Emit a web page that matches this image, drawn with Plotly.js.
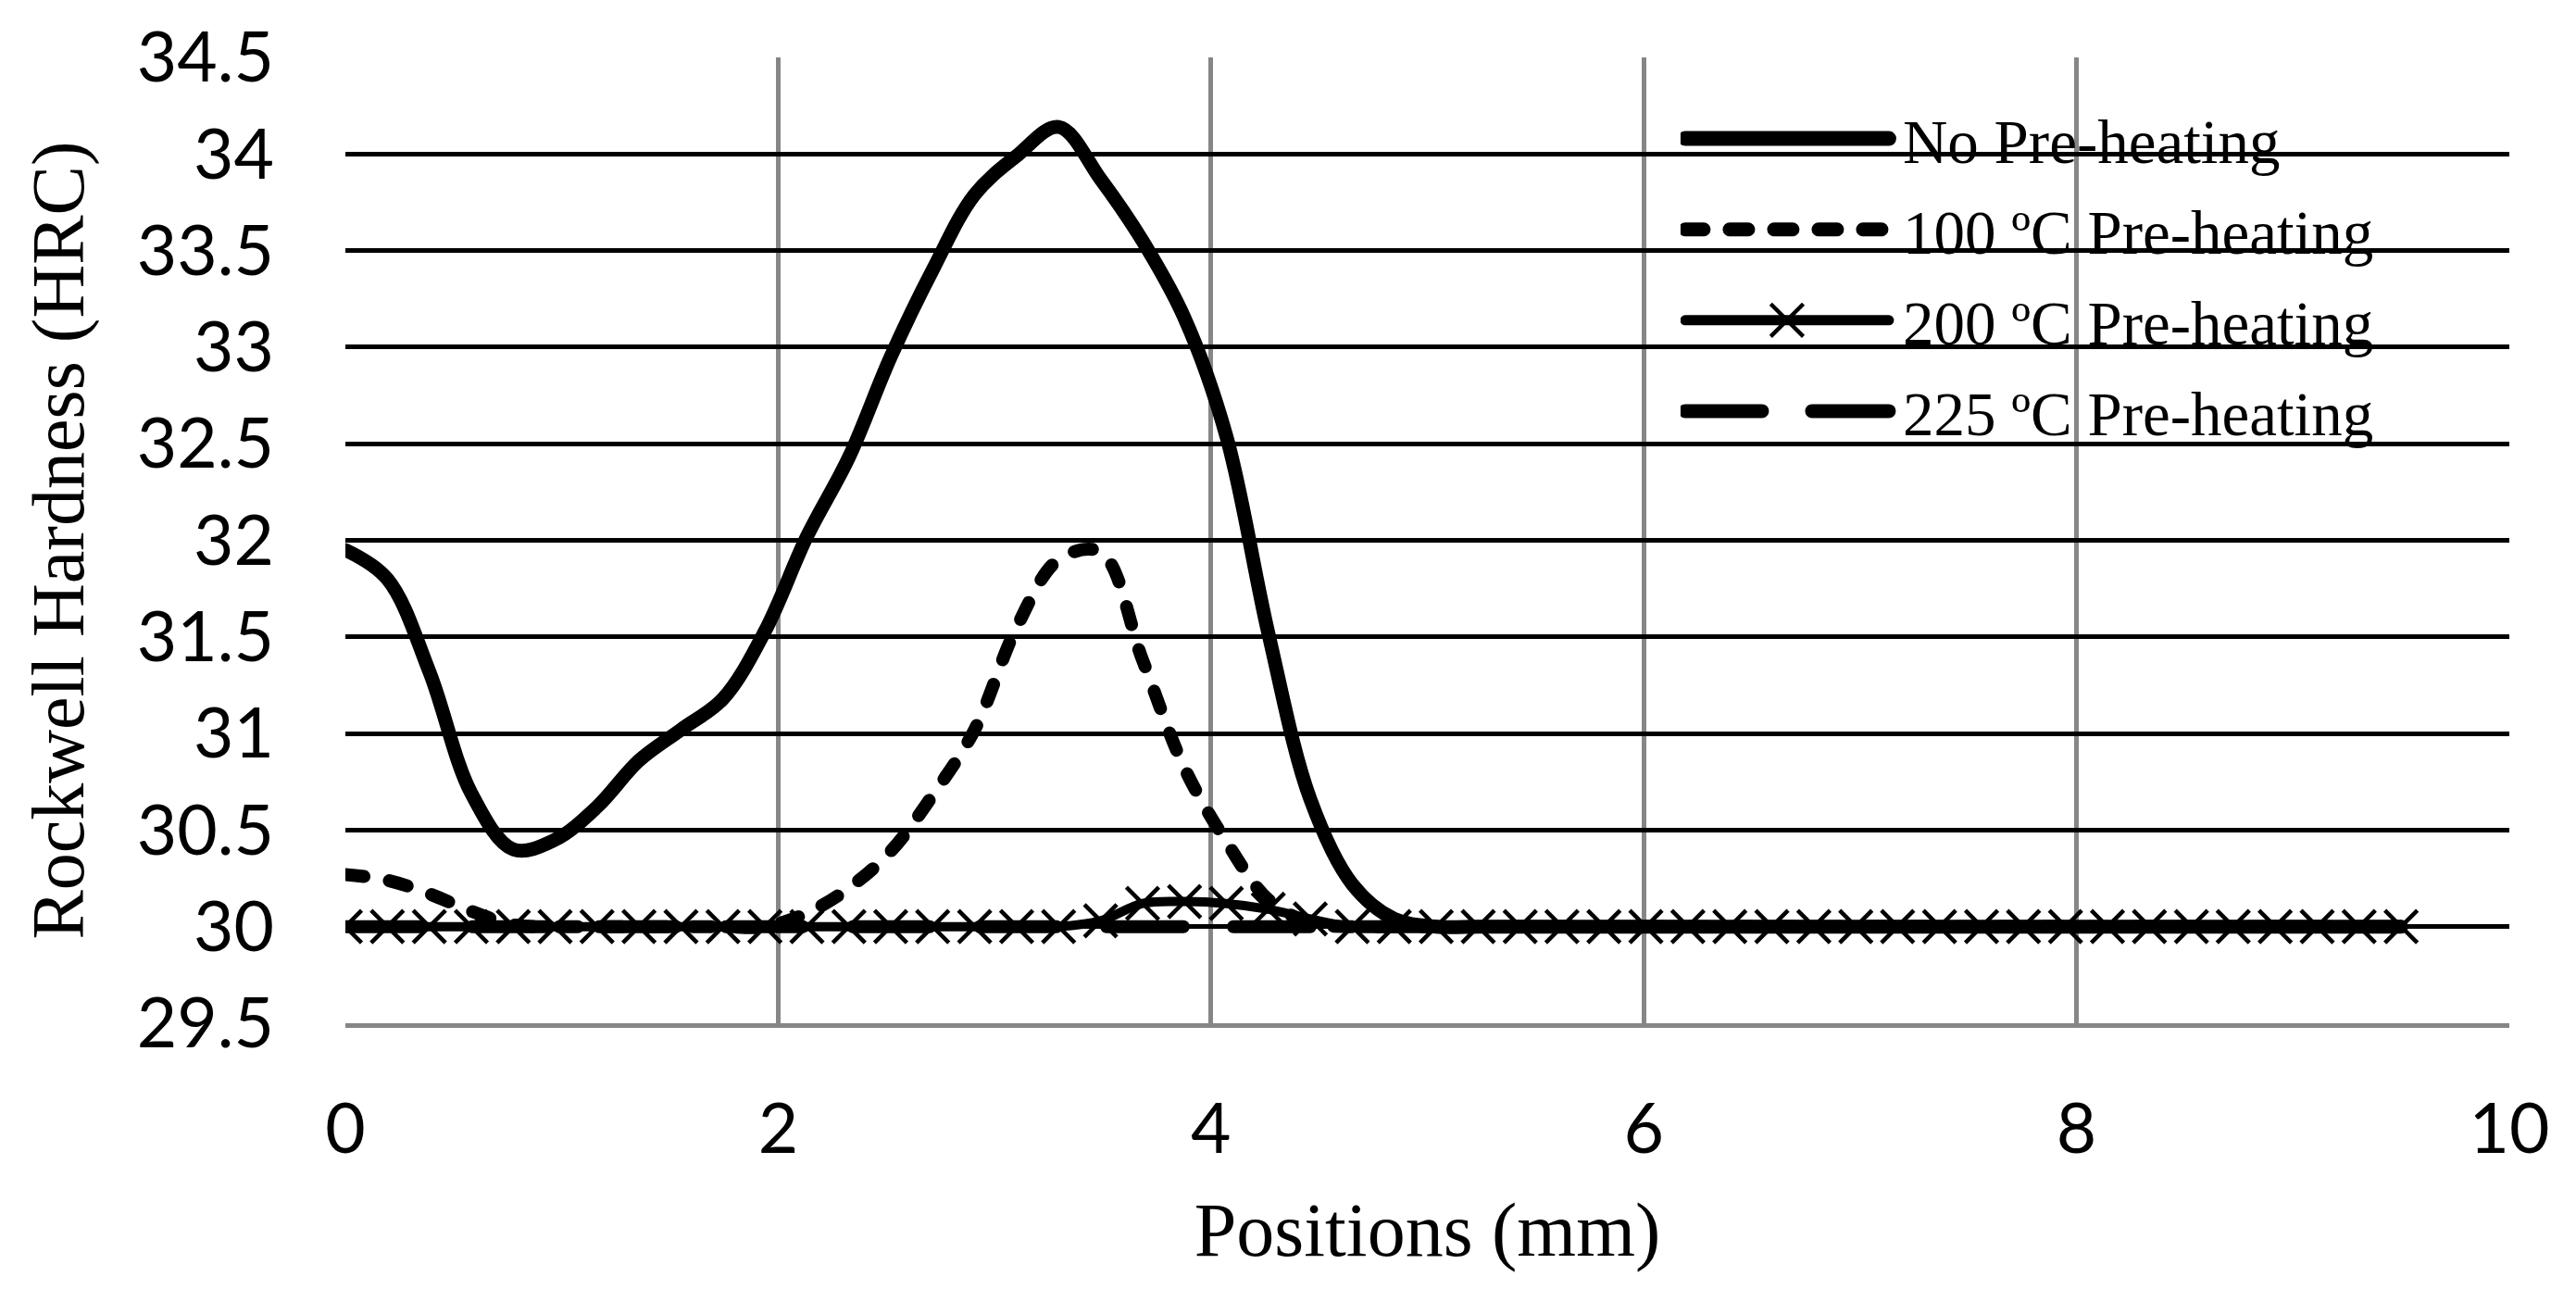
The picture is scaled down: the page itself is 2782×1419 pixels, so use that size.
<!DOCTYPE html>
<html>
<head>
<meta charset="utf-8">
<script src="https://cdn.plot.ly/plotly-3.0.1.min.js"></script>
<style>
    html, body { margin: 0; padding: 0; background: #fff; }
    #chart { width: 2782px; height: 1419px; }
    #chart .js-line { stroke-linecap: round; stroke-linejoin: round; }
</style>
</head>
<body>
<div id="chart"></div>
<script>
// positions along the sample (mm), 50 readings from 0 to 9.5
let positions = [0, 0.194, 0.388, 0.582, 0.776, 0.969, 1.163, 1.357, 1.551, 1.745,
    1.939, 2.133, 2.327, 2.520, 2.714, 2.908, 3.102, 3.296, 3.490, 3.684,
    3.878, 4.071, 4.265, 4.459, 4.653, 4.847, 5.041, 5.235, 5.429, 5.622,
    5.816, 6.010, 6.204, 6.398, 6.592, 6.786, 6.980, 7.173, 7.367, 7.561,
    7.755, 7.949, 8.143, 8.337, 8.531, 8.724, 8.918, 9.112, 9.306, 9.500];

let noPreheat = [31.95, 31.80, 31.32, 30.69, 30.40, 30.45, 30.62, 30.86, 31.02, 31.18,
    31.53, 32.02, 32.43, 32.95, 33.40, 33.79, 33.99, 34.14, 33.87, 33.55,
    33.15, 32.54, 31.52, 30.66, 30.22, 30.04, 30, 30, 30, 30,
    30, 30, 30, 30, 30, 30, 30, 30, 30, 30,
    30, 30, 30, 30, 30, 30, 30, 30, 30, 30];

let preheat100 = [30.27, 30.24, 30.17, 30.08, 30.01, 30, 30, 30, 30, 30,
    30, 30.07, 30.20, 30.39, 30.68, 31.02, 31.55, 31.90, 31.94, 31.38,
    30.82, 30.44, 30.14, 30.02, 30, 30, 30, 30, 30, 30,
    30, 30, 30, 30, 30, 30, 30, 30, 30, 30,
    30, 30, 30, 30, 30, 30, 30, 30, 30, 30];

let preheat200 = [30, 30, 30, 30, 30, 30, 30, 30, 30, 30,
    30, 30, 30, 30, 30, 30, 30, 30, 30.03, 30.12,
    30.13, 30.12, 30.09, 30.04, 30, 30, 30, 30, 30, 30,
    30, 30, 30, 30, 30, 30, 30, 30, 30, 30,
    30, 30, 30, 30, 30, 30, 30, 30, 30, 30];

let preheat225 = [30, 30, 30, 30, 30, 30, 30, 30, 30, 30,
    30, 30, 30, 30, 30, 30, 30, 30, 30, 30,
    30, 30, 30, 30, 30, 30, 30, 30, 30, 30,
    30, 30, 30, 30, 30, 30, 30, 30, 30, 30,
    30, 30, 30, 30, 30, 30, 30, 30, 30, 30];

let seriesNames = ['No Pre-heating', '100 ºC Pre-heating', '200 ºC Pre-heating', '225 ºC Pre-heating'];

let serif = 'Liberation Serif, Times New Roman, serif';
let sans = 'Lato, Open Sans, sans-serif';

let traces = [
    {
        x: positions, y: noPreheat, name: seriesNames[0], legendgroup: 'a',
        mode: 'lines', line: {color: '#000', width: 15, shape: 'spline', smoothing: 1}
    },
    {
        x: positions, y: preheat100, name: seriesNames[1], legendgroup: 'b',
        mode: 'lines', line: {color: '#000', width: 14, shape: 'spline', smoothing: 1, dash: '20px,28px'}
    },
    {
        x: positions, y: preheat200, name: seriesNames[2], legendgroup: 'c',
        mode: 'lines+markers', line: {color: '#000', width: 10, shape: 'spline', smoothing: 1},
        marker: {symbol: 'x-thin', size: 35, color: '#000', line: {color: '#000', width: 4.5}}
    },
    {
        x: positions, y: preheat225, name: seriesNames[3], legendgroup: 'd',
        mode: 'lines', line: {color: '#000', width: 14, dash: '83px,54px'}
    }
];

let layout = {
    width: 2782,
    height: 1419,
    margin: {l: 373, r: 72, t: 62, b: 314},
    paper_bgcolor: '#fff',
    plot_bgcolor: '#fff',
    showlegend: true,
    legend: {
        x: 0.617, y: 0.964, xanchor: 'left', yanchor: 'top',
        bgcolor: 'rgba(0,0,0,0)',
        font: {family: serif, size: 67, color: '#000'},
        itemwidth: 230,
        tracegroupgap: 8
    },
    xaxis: {
        range: [0, 10], tick0: 0, dtick: 2,
        showgrid: true, gridcolor: '#868686', gridwidth: 4.5,
        zeroline: false, showline: true, linecolor: '#868686', linewidth: 4.5,
        ticks: '', ticklabelstandoff: 45,
        tickfont: {family: sans, size: 75, color: '#000'},
        title: {text: 'Positions (mm)', font: {family: serif, size: 82, color: '#000'}, standoff: 40}
    },
    yaxis: {
        range: [29.5, 34.5], tick0: 29.5, dtick: 0.5,
        showgrid: true, gridcolor: '#000', gridwidth: 4.5,
        zeroline: false, showline: false,
        ticks: '', ticklabelstandoff: 76,
        tickfont: {family: sans, size: 75, color: '#000'},
        title: {text: 'Rockwell Hardness (HRC)', font: {family: serif, size: 80, color: '#000'}, standoff: 30}
    }
};

Plotly.newPlot('chart', traces, layout, {displayModeBar: false}).then(stretchLegend);

// Excel-style legend keys are much longer than plotly's 30px samples
function stretchLegend() {
    let items = document.querySelectorAll('#chart .legend .traces');

    for (let i = 0; i < items.length; i++) {
        let line = items[i].querySelector('.legendlines path');
        if (line) {
            line.setAttribute('d', 'M5,0h220');
            line.style.strokeWidth = (traces[i].line.width + 1) + 'px';
        }

        let pt = items[i].querySelector('.legendpoints path.scatterpts');
        if (pt) {
            pt.setAttribute('transform', 'translate(115,0) scale(2.2)');
            pt.style.strokeWidth = '2px';
        }
    }
}
</script>
</body>
</html>
